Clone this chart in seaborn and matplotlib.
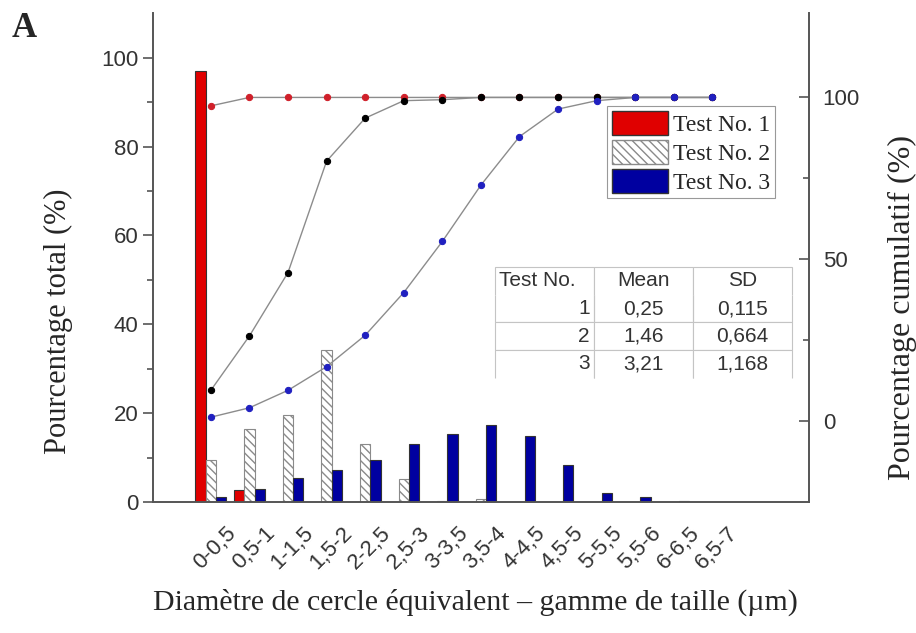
import numpy as np
import pandas as pd
import matplotlib
matplotlib.use('Agg')
import matplotlib.pyplot as plt
import matplotlib.transforms as mtransforms
import seaborn as sb
from matplotlib.patches import Patch

# size classes (µm)
size_ranges = ['0-0,5', '0,5-1', '1-1,5', '1,5-2', '2-2,5', '2,5-3', '3-3,5',
               '3,5-4', '4-4,5', '4,5-5', '5-5,5', '5,5-6', '6-6,5', '6,5-7']
tests = ['Test No. 1', 'Test No. 2', 'Test No. 3']

# percentage per class
pct_test1 = [97.1, 2.7, 0, 0, 0, 0, 0, 0, 0, 0, 0, 0, 0, 0]
pct_test2 = [9.5, 16.5, 19.6, 34.1, 13.0, 5.1, 0.3, 0.6, 0, 0, 0, 0, 0, 0]
pct_test3 = [1.1, 2.9, 5.3, 7.1, 9.4, 13.0, 15.4, 17.3, 14.8, 8.4, 2.1, 1.2, 0.2, 0]

# cumulative percentage
cum_test1 = [97.4, 100, 100, 100, 100, 100, 100, 100, 100, 100, 100, 100, 100, 100]
cum_test2 = [9.5, 26.3, 45.9, 80.3, 93.6, 99.0, 99.3, 100, 100, 100, 100, 100, 100, 100]
cum_test3 = [1.2, 4.1, 9.5, 16.8, 26.5, 39.7, 55.5, 72.9, 87.9, 96.4, 99.0, 100, 100, 100]

# summary table
table_header = ['Test No.', 'Mean', 'SD']
table_tests = ['1', '2', '3']
table_mean = ['0,25', '1,46', '3,21']
table_sd = ['0,115', '0,664', '1,168']

bar_colors = ['#e00000', 'white', '#0000a0']
dot_colors = ['#d0202a', 'black', '#2020c0']

df = pd.DataFrame({
    'range': size_ranges * 3,
    'test': np.repeat(tests, len(size_ranges)),
    'pct': pct_test1 + pct_test2 + pct_test3,
})

sb.set_style('white')
plt.rcParams['font.family'] = ['Liberation Sans', 'DejaVu Sans']
serif = ['Liberation Serif', 'DejaVu Serif']

fig = plt.figure(figsize=(9.16, 6.33), dpi=100)
ax = fig.add_axes([0.167, 0.207, 0.716, 0.772])

sb.barplot(data=df, x='range', y='pct', hue='test', palette=bar_colors,
           width=0.8, ax=ax, legend=False, saturation=1,
           edgecolor='#333333', linewidth=0.8)
for bar in ax.containers[1]:
    bar.set_hatch('\\\\\\\\')
    bar.set_edgecolor('#8a8a8a')

ax2 = ax.twinx()
x = np.arange(len(size_ranges))
for cum, col in zip([cum_test1, cum_test2, cum_test3], dot_colors):
    sb.lineplot(x=x, y=cum, ax=ax2, color='#8c8c8c', linewidth=1.0,
                marker='o', markersize=4.5, markerfacecolor=col,
                markeredgecolor=col, legend=False)

ax.set_xlim(-1.5, 15.5)
ax.set_ylim(0, 110)
ax2.set_ylim(-25, 126)

ax.set_xticks(x)
ax.set_xticklabels(size_ranges, rotation=45, ha='right', rotation_mode='anchor',
                   fontsize=16, color='#333333')
ax.set_xticks(np.arange(-0.5, 15, 1), minor=True)
ax.tick_params(axis='x', which='major', length=0, pad=6)
ax.tick_params(axis='x', which='minor', length=5, width=1.2, color='#555555',
               direction='out')

ax.set_yticks(np.arange(0, 101, 20))
ax.set_yticks(np.arange(10, 101, 20), minor=True)
ax.tick_params(axis='y', which='major', length=7, width=1.2, color='#555555',
               labelsize=16, labelcolor='#333333', direction='out', left=True)
ax.tick_params(axis='y', which='minor', length=4, width=1.2, color='#555555',
               direction='out', left=True)

ax2.set_yticks([0, 50, 100])
ax2.set_yticks([25, 75], minor=True)
ax2.tick_params(axis='y', which='major', length=7, width=1.2, color='#555555',
                labelsize=16, labelcolor='#333333', direction='in', right=True, pad=10)
ax2.tick_params(axis='y', which='minor', length=4, width=1.2, color='#555555',
                direction='in', right=True)

# labels sit a bit right of / below the group centre in the original
shift = mtransforms.ScaledTranslation(0.15, -0.12, fig.dpi_scale_trans)
for tick in ax.xaxis.get_major_ticks():
    tick.label1.set_transform(tick.label1.get_transform() + shift)

for a in (ax, ax2):
    a.spines['top'].set_visible(False)
    for s in a.spines.values():
        s.set_color('#555555')
        s.set_linewidth(1.4)
ax2.spines['left'].set_visible(False)
ax2.spines['bottom'].set_visible(False)
ax.spines['right'].set_visible(False)

ax.set_xlabel('Diamètre de cercle équivalent – gamme de taille (µm)',
              family=serif, fontsize=21.5)
ax.xaxis.set_label_coords(0.492, -0.178)
ax.set_ylabel('Pourcentage total (%)', family=serif, fontsize=22)
ax.yaxis.set_label_coords(-0.122, 0.37)
ax2.set_ylabel('Pourcentage cumulatif (%)', family=serif, fontsize=23)
ax2.yaxis.set_label_coords(1.12, 0.397)

handles = [Patch(facecolor=bar_colors[0], edgecolor='#333333'),
           Patch(facecolor='white', edgecolor='#8a8a8a', hatch='\\\\\\\\'),
           Patch(facecolor=bar_colors[2], edgecolor='#333333')]
leg = ax2.legend(handles, tests, loc='upper left', bbox_to_anchor=(0.692, 0.81),
                 prop={'family': serif, 'size': 17}, frameon=True, fancybox=False,
                 edgecolor='#999999', framealpha=1, borderpad=0.2,
                 handlelength=2.4, handleheight=1.2, handletextpad=0.2,
                 labelspacing=0.16, borderaxespad=0)
leg.get_frame().set_linewidth(0.8)
leg.set_zorder(10)

cells = [[t, m, s] for t, m, s in zip(table_tests, table_mean, table_sd)]
tab = ax2.table(cellText=cells, colLabels=table_header,
                bbox=[0.521, 0.254, 0.453, 0.227], cellLoc='center')
tab.auto_set_font_size(False)
tab.set_fontsize(15)
tab.set_zorder(10)
for (r, c), cell in tab.get_celld().items():
    cell.set_edgecolor('#c4c4c4')
    cell.set_linewidth(0.8)
    cell.get_text().set_color('#333333')
    if c == 0:
        cell.get_text().set_horizontalalignment('left' if r == 0 else 'right')
        cell._loc = 'left' if r == 0 else 'right'
        cell.PAD = 0.04
    if r == 0:
        cell.visible_edges = 'TLR'
    elif r == 1:
        cell.visible_edges = 'BLR'
    elif r == 3:
        cell.visible_edges = 'TLR'

fig.text(0.013, 0.942, 'A', family=serif, fontsize=25, fontweight='bold')

fig.savefig('out.png', dpi=100)
